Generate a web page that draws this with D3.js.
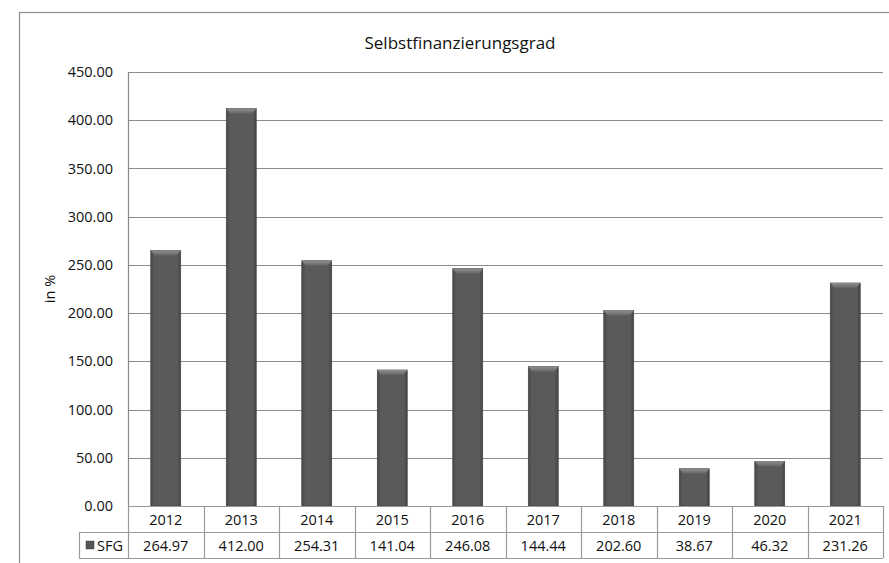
<!DOCTYPE html>
<html>
<head>
<meta charset="utf-8">
<script src="https://cdn.jsdelivr.net/npm/d3@7"></script>
<style>
  body { margin: 0; background: #fff; }
  text { font-family: "Open Sans", "Noto Sans", sans-serif; fill: #111; }
</style>
</head>
<body>
<div id="chart"></div>
<script>
// data
const years = ["2012", "2013", "2014", "2015", "2016", "2017", "2018", "2019", "2020", "2021"];
const sfgValues = [264.97, 412.00, 254.31, 141.04, 246.08, 144.44, 202.60, 38.67, 46.32, 231.26];
const yTicks = [0, 50, 100, 150, 200, 250, 300, 350, 400, 450];
const seriesName = "SFG";

const width = 889, height = 563;
const plot = { left: 128, right: 883, top: 72, bottom: 506 };
const rowH = 26;

const svg = d3.select("#chart").append("svg")
    .attr("width", width)
    .attr("height", height);

// bar gradient, lighter in the middle
const defs = svg.append("defs");
const grad = defs.append("linearGradient").attr("id", "barGrad")
    .attr("x1", "0%").attr("x2", "100%").attr("y1", "0%").attr("y2", "0%");
grad.append("stop").attr("offset", "0%").attr("stop-color", "#484848");
grad.append("stop").attr("offset", "12%").attr("stop-color", "#5a5a5a");
grad.append("stop").attr("offset", "88%").attr("stop-color", "#5a5a5a");
grad.append("stop").attr("offset", "100%").attr("stop-color", "#444");
const bevel = defs.append("linearGradient").attr("id", "bevelGrad")
    .attr("x1", "0%").attr("x2", "0%").attr("y1", "0%").attr("y2", "100%");
bevel.append("stop").attr("offset", "0%").attr("stop-color", "#999");
bevel.append("stop").attr("offset", "100%").attr("stop-color", "#666");

// outer chart frame
svg.append("rect")
    .attr("x", 19.5).attr("y", 12.5)
    .attr("width", 900).attr("height", 600)
    .attr("fill", "none").attr("stroke", "#8c8c8c").attr("stroke-width", 1.2);

const x = d3.scaleBand().domain(years).range([plot.left, plot.right]).paddingInner(0).paddingOuter(0);
const y = d3.scaleLinear().domain([0, 450]).range([plot.bottom, plot.top]);

// gridlines
svg.append("g")
    .selectAll("line")
    .data(yTicks)
    .join("line")
    .attr("x1", plot.left).attr("x2", plot.right)
    .attr("y1", d => Math.round(y(d)) + 0.5).attr("y2", d => Math.round(y(d)) + 0.5)
    .attr("stroke", "#8c8c8c").attr("stroke-width", 1.2);

// y axis line
svg.append("line")
    .attr("x1", plot.left + 0.5).attr("x2", plot.left + 0.5)
    .attr("y1", plot.top).attr("y2", plot.bottom)
    .attr("stroke", "#8c8c8c").attr("stroke-width", 1.2);

// y tick labels
svg.append("g")
    .selectAll("text")
    .data(yTicks)
    .join("text")
    .attr("x", 113)
    .attr("y", d => y(d))
    .attr("dy", "0.35em")
    .attr("text-anchor", "end")
    .attr("font-size", 14.5)
    .text(d => d3.format(".2f")(d));

// y axis title
svg.append("text")
    .attr("transform", "translate(55,289) rotate(-90)")
    .attr("text-anchor", "middle")
    .attr("font-size", 14.5)
    .text("in %");

// title
svg.append("text")
    .attr("x", 460).attr("y", 49)
    .attr("text-anchor", "middle")
    .attr("font-size", 17)
    .text("Selbstfinanzierungsgrad");

// bars
const barW = 30;
const bars = svg.append("g").selectAll("g")
    .data(years.map((yr, i) => ({ yr, v: sfgValues[i] })))
    .join("g");
bars.append("rect")
    .attr("x", d => x(d.yr) + x.bandwidth() / 2 - barW / 2)
    .attr("y", d => y(d.v))
    .attr("width", barW)
    .attr("height", d => plot.bottom - y(d.v))
    .attr("fill", "url(#barGrad)")
    .attr("stroke", "#3c3c3c").attr("stroke-width", 0.6);
// bevel on top
bars.append("path")
    .attr("d", d => {
        const x0 = x(d.yr) + x.bandwidth() / 2 - barW / 2, t = y(d.v);
        return `M${x0},${t} L${x0 + barW},${t} L${x0 + barW - 4},${t + 5} L${x0 + 4},${t + 5} Z`;
    })
    .attr("fill", "url(#bevelGrad)").attr("opacity", 0.85);

// data table
const tbl = svg.append("g");
const tableStroke = "#9a9a9a";
// horizontal lines
[plot.bottom, plot.bottom + rowH, plot.bottom + 2 * rowH].forEach((yy, i) => {
    tbl.append("line")
        .attr("x1", i === 0 ? plot.left : 79).attr("x2", plot.right)
        .attr("y1", yy + 0.5).attr("y2", yy + 0.5)
        .attr("stroke", tableStroke).attr("stroke-width", 1.2);
});
// vertical lines
const colEdges = years.map(yr => x(yr)).concat([plot.right]);
tbl.selectAll("line.v")
    .data(colEdges)
    .join("line")
    .attr("class", "v")
    .attr("x1", d => Math.round(d) + 0.5).attr("x2", d => Math.round(d) + 0.5)
    .attr("y1", plot.bottom).attr("y2", plot.bottom + 2 * rowH)
    .attr("stroke", tableStroke).attr("stroke-width", 1.2);
tbl.append("line")
    .attr("x1", 79.5).attr("x2", 79.5)
    .attr("y1", plot.bottom + rowH).attr("y2", plot.bottom + 2 * rowH)
    .attr("stroke", tableStroke).attr("stroke-width", 1.2);

tbl.selectAll("text.yr")
    .data(years)
    .join("text")
    .attr("class", "yr")
    .attr("x", d => x(d) + x.bandwidth() / 2)
    .attr("y", plot.bottom + rowH / 2 + 1)
    .attr("dy", "0.35em")
    .attr("text-anchor", "middle")
    .attr("font-size", 14.5)
    .text(d => d);

tbl.selectAll("text.val")
    .data(sfgValues)
    .join("text")
    .attr("class", "val")
    .attr("x", (d, i) => x(years[i]) + x.bandwidth() / 2)
    .attr("y", plot.bottom + rowH * 1.5 + 1)
    .attr("dy", "0.35em")
    .attr("text-anchor", "middle")
    .attr("font-size", 14.5)
    .text(d => d3.format(".2f")(d));

// legend key in table
tbl.append("rect")
    .attr("x", 86).attr("y", plot.bottom + rowH * 1.5 - 4)
    .attr("width", 8).attr("height", 8)
    .attr("fill", "#555").attr("stroke", "#3c3c3c").attr("stroke-width", 0.5);
tbl.append("text")
    .attr("x", 97).attr("y", plot.bottom + rowH * 1.5 + 1)
    .attr("dy", "0.35em")
    .attr("font-size", 14.5)
    .text(seriesName);
</script>
</body>
</html>
